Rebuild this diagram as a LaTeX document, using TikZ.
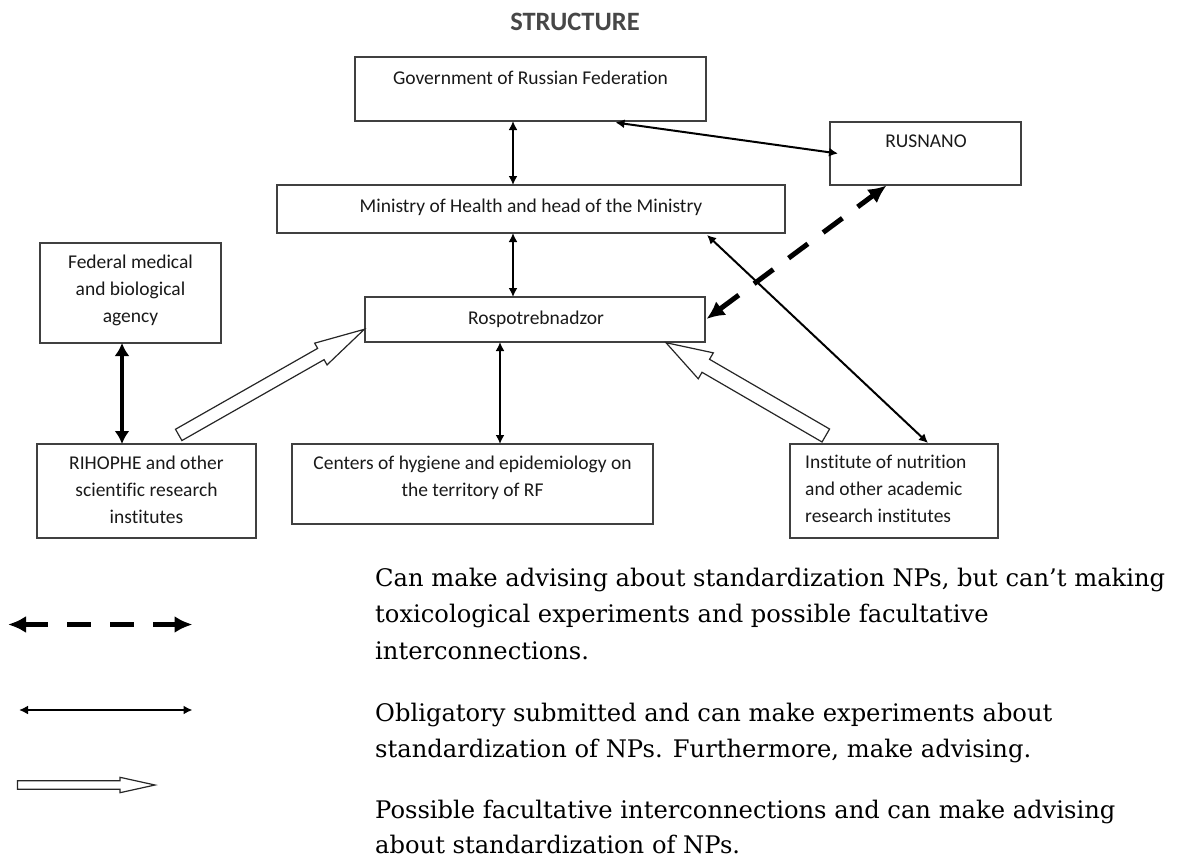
\documentclass[tikz,border=0pt]{standalone}
\usepackage{fontspec}
\setmainfont{Carlito}[Ligatures=NoCommon]
\newfontfamily\legendfont{DejaVu Serif}
\usetikzlibrary{arrows.meta,calc}
\newcommand\hollowarrow[5]{%
  \coordinate (hb) at ($(#2)!#5!(#1)$);
  \draw[hollow] ($(#1)!#3!90:(#2)$) -- ($(hb)!#3!90:(#2)$) -- ($(hb)!#4!90:(#2)$) -- (#2)
    -- ($(hb)!#4!-90:(#2)$) -- ($(hb)!#3!-90:(#2)$) -- ($(#1)!#3!-90:(#2)$) -- cycle;}
\begin{document}
\begin{tikzpicture}[x=1pt,y=-1pt,
  box/.style={draw=black!75, line width=1.3pt, inner sep=0pt, outer sep=0pt},
  txt/.style={inner sep=0pt, font=\fontsize{19.5}{27}\selectfont, text=black!90},
  lgd/.style={inner sep=0pt, anchor=base west, font=\legendfont\fontsize{24.2}{36.5}\selectfont},
  dbl/.style={line width=2pt, {Latex[length=9pt,width=9pt]}-{Latex[length=9pt,width=9pt]}},
  dblthick/.style={line width=3.5pt, {Latex[length=13pt,width=15pt]}-{Latex[length=13pt,width=15pt]}},
  dsh/.style={line width=5pt, dash pattern=on 24pt off 19pt, {Latex[length=18pt,width=17pt]}-{Latex[length=18pt,width=17pt]}},
  hollow/.style={draw=black!85, line width=1.2pt, fill=white, line join=miter}]
\useasboundingbox (0,0) rectangle (1177,859);

% title
\node[inner sep=0pt, anchor=base, font=\bfseries\fontsize{26.5}{30}\selectfont, text=black!72] (title) at (575,31) {STRUCTURE};

% boxes
\node[box, minimum width=351pt, minimum height=64pt] (gov) at (530.5,89) {};
\node[box, minimum width=191pt, minimum height=63pt] (rus) at (925.5,153.5) {};
\node[box, minimum width=508pt, minimum height=48pt] (min) at (531,209) {};
\node[box, minimum width=181pt, minimum height=100pt] (fed) at (130.5,293) {};
\node[box, minimum width=340pt, minimum height=45pt] (rosp) at (535,319.5) {};
\node[box, minimum width=219pt, minimum height=94pt] (rih) at (146.5,491) {};
\node[box, minimum width=361pt, minimum height=80pt] (cen) at (472.5,484) {};
\node[box, minimum width=208pt, minimum height=94pt] (ins) at (894,491) {};

% box texts
\node[txt, anchor=base] (govt) at (530.5,84.5) {Government of Russian Federation};
\node[txt, anchor=base] (rust) at (926,147.5) {RUSNANO};
\node[txt, anchor=base] (mint) at (531,212.5) {Ministry of Health and head of the Ministry};
\node[txt, anchor=base] (fedt1) at (130.5,268.5) {Federal medical};
\node[txt, anchor=base] (fedt2) at (130.5,295.5) {and biological};
\node[txt, anchor=base] (fedt3) at (130.5,322.5) {agency};
\node[txt, anchor=base] (rospt) at (536,324.5) {Rospotrebnadzor};
\node[txt, anchor=base] (riht1) at (146.5,469.5) {RIHOPHE and other};
\node[txt, anchor=base] (riht2) at (146.5,496.5) {scientific research};
\node[txt, anchor=base] (riht3) at (146.5,523.5) {institutes};
\node[txt, anchor=base] (cent1) at (472.5,469.3) {Centers of hygiene and epidemiology on};
\node[txt, anchor=base] (cent2) at (472.5,496.7) {the territory of RF};
\node[txt, anchor=base west] (inst1) at (805,468.5) {Institute of nutrition};
\node[txt, anchor=base west] (inst2) at (805,495.5) {and other academic};
\node[txt, anchor=base west] (inst3) at (805,522.5) {research institutes};

% connectors
\draw[dbl] ([xshift=-17.5pt]gov.south) -- ([xshift=-17.5pt]gov.south |- min.north);
\draw[dbl] ([xshift=-18pt]min.south) -- ([xshift=-18pt]min.south |- rosp.north);
\draw[dbl] ([xshift=-35pt]rosp.south) -- ([xshift=-35pt]rosp.south |- cen.north);
\draw[dblthick] ([xshift=-8.5pt]fed.south) -- ([xshift=-8.5pt]fed.south |- rih.north);
\draw[dbl] ([xshift=85pt,yshift=-1.5pt]gov.south) -- ([xshift=8pt]rus.west);
\draw[dbl] ([xshift=176pt,yshift=-2pt]min.south) -- ([xshift=34pt,yshift=1pt]ins.north);
\draw[dsh] ([xshift=1.5pt,yshift=0.5pt]rosp.east) -- ([xshift=-39pt,yshift=-0.5pt]rus.south);

\coordinate (h1a) at ($(rih.north)+(32.2,-9.1)$);
\coordinate (h1b) at ($(rosp.west)+(-0.7,9.8)$);
\hollowarrow{h1a}{h1b}{6.5pt}{12.5pt}{50pt}
\coordinate (h2a) at ($(ins.north)+(-68.2,-8.5)$);
\coordinate (h2b) at ($(rosp.south east)+(-39,0.7)$);
\hollowarrow{h2a}{h2b}{7.5pt}{15pt}{46pt}

% legend
\coordinate (l1a) at (8,624.5);
\coordinate (l1b) at (192.5,624.5);
\draw[dsh] (l1a) -- (l1b);
\coordinate (l2a) at (19,710);
\coordinate (l2b) at (192.5,710);
\draw[dbl] (l2a) -- (l2b);
\coordinate (l3a) at (17.5,785);
\coordinate (l3b) at (155,785);
\hollowarrow{l3a}{l3b}{4.2pt}{7.7pt}{35pt}

\node[lgd] (g1) at (375,586.2) {Can make advising about standardization NPs, but can’t making};
\node[lgd] (g2) at (375,622.5) {toxicological experiments and possible facultative};
\node[lgd] (g3) at (375,659) {interconnections.};
\node[lgd] (g4) at (375,721) {Obligatory submitted and can make experiments about};
\node[lgd] (g5) at (375,757.5) {standardization of NPs. Furthermore, make advising.};
\node[lgd] (g6) at (375,818) {Possible facultative interconnections and can make advising};
\node[lgd] (g7) at (375,853.5) {about standardization of NPs.};
\end{tikzpicture}
\end{document}
